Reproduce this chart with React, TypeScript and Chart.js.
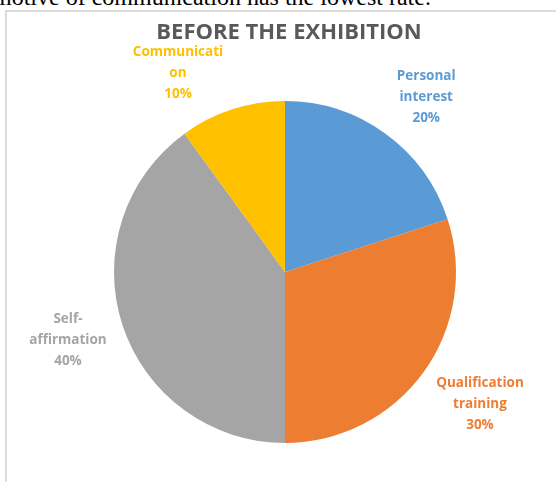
import React, { useEffect, useRef } from "react";
import { Chart, registerables } from "chart.js";

Chart.register(...registerables);

const categories = ["Personal interest", "Qualification training", "Self-affirmation", "Communication"];
const labelLines = [["Personal", "interest"], ["Qualification", "training"], ["Self-", "affirmation"], ["Communicati", "on"]];
const values = [20, 30, 40, 10];
const colors = ["#5B9BD5", "#ED7D31", "#A5A5A5", "#FFC000"];
const chartTitle = "BEFORE THE EXHIBITION";
const caption = "motive of communication has the lowest rate.";

// label placement: angle offset (deg) from slice middle, distance in radii
const labelPlacement = [
  { dA: 2.9, dist: 1.315 },
  { dA: -1.9, dist: 1.377 },
  { dA: 0.6, dist: 1.33 },
  { dA: -10.3, dist: 1.32 },
];

const labelPlugin = {
  id: "outsideLabels",
  afterDraw(chart: any) {
    const ctx = chart.ctx;
    const meta = chart.getDatasetMeta(0);
    ctx.save();
    ctx.textAlign = "center";
    ctx.textBaseline = "middle";
    ctx.font = "bold 13.5px 'Open Sans'";
    const total = values.reduce((a, b) => a + b, 0);
    meta.data.forEach((arc: any, i: number) => {
      const p = arc.getProps(["x", "y", "startAngle", "endAngle", "outerRadius"], true);
      const mid = (p.startAngle + p.endAngle) / 2 + (labelPlacement[i].dA * Math.PI) / 180;
      const r = p.outerRadius * labelPlacement[i].dist;
      const cx = p.x + Math.cos(mid) * r;
      const cy = p.y + Math.sin(mid) * r;
      const lines = [...labelLines[i], Math.round((values[i] / total) * 100) + "%"];
      ctx.fillStyle = colors[i];
      lines.forEach((t, k) => ctx.fillText(t, cx, cy + (k - 1) * 21));
    });
    // title
    ctx.fillStyle = "#595959";
    ctx.font = "bold 22px 'Open Sans'";
    ctx.fillText(chartTitle, 289, 33);
    ctx.restore();
  },
};

export default function App() {
  const ref = useRef<HTMLCanvasElement>(null);
  useEffect(() => {
    const chart = new Chart(ref.current!, {
      type: "pie",
      data: {
        labels: categories,
        datasets: [{ data: values, backgroundColor: colors, borderWidth: 0 }],
      },
      options: {
        animation: false,
        responsive: false,
        layout: { padding: { left: 114, right: 100, top: 101, bottom: 39 } },
        plugins: { legend: { display: false }, tooltip: { enabled: false }, title: { display: false } },
      },
      plugins: [labelPlugin],
    });
    return () => chart.destroy();
  }, []);
  return (
    <div style={{ position: "fixed", left: 0, top: 0, width: 556, height: 482, overflow: "hidden", background: "#fff" }}>
      <div
        style={{
          position: "absolute",
          left: 5,
          top: 10,
          width: 700,
          height: 700,
          border: "2px solid #dcdcdc",
          boxSizing: "border-box",
        }}
      />
      <div
        style={{
          position: "absolute",
          left: -7,
          top: -16,
          fontFamily: "'Liberation Serif', 'Times New Roman', serif",
          fontSize: 24,
          whiteSpace: "nowrap",
          color: "#000",
        }}
      >
        {caption}
      </div>
      <canvas ref={ref} width={556} height={482} style={{ position: "absolute", left: 0, top: 0 }} />
    </div>
  );
}
